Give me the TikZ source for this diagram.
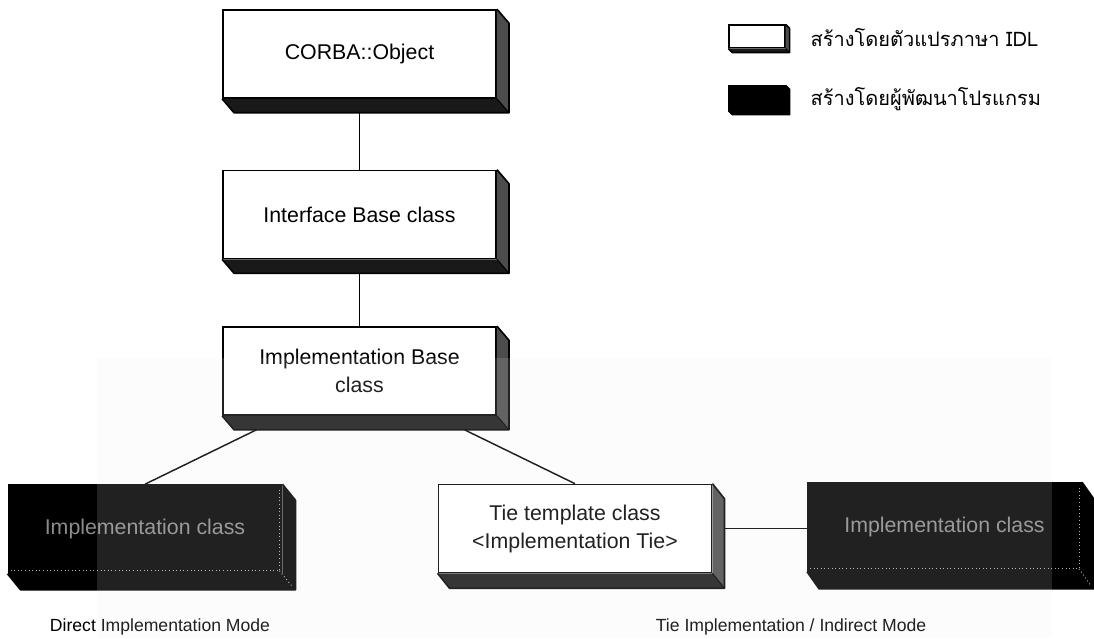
\documentclass[tikz,border=0pt]{standalone}
\usepackage{fontspec}
\setmainfont{Liberation Sans}
\newfontfamily\thaifont[Script=Thai]{Loma}
\usetikzlibrary{calc}

% 3D bevel (right and bottom faces) behind a named box node
\newcommand\classbevel[5]{%
  \fill[#4] (#1.north east) -- ++(#2,#3) -- ([shift={(#2,#3)}]#1.south east) -- (#1.south east) -- cycle;
  \fill[#5] (#1.south west) -- (#1.south east) -- ([shift={(#2,#3)}]#1.south east) -- ([shift={(#2,#3)}]#1.south west) -- cycle;
  \draw[line width=1.2pt, line join=round] (#1.north east) -- ++(#2,#3) -- ([shift={(#2,#3)}]#1.south east) -- ([shift={(#2,#3)}]#1.south west) -- (#1.south west);
  \draw[line width=0.8pt] (#1.south east) -- ++(#2,#3);
}
% faint dotted highlight along the inner edges of a dark box
\newcommand\darkedges[3]{%
  \draw[gray!60, dotted, line width=0.7pt] ([shift={(3,-3)}]#1.south west) -- ([shift={(-3,-3)}]#1.south east) -- ([shift={(-3,3)}]#1.north east);
  \draw[gray!60, dotted, line width=0.7pt] ([shift={(-3,-3)}]#1.south east) -- ++(#2,#3);
}

\tikzset{
  boxbase/.style={rectangle, draw=black, line width=1.2pt, minimum width=205pt,
    minimum height=66pt, inner sep=0pt, align=center,
    font=\fontsize{16}{19}\selectfont},
  idlbox/.style={boxbase, fill=white, text=black},
  userbox/.style={boxbase, fill=black, text=black!45},
  legendbox/.style={rectangle, draw=black, line width=1pt, minimum width=42pt, inner sep=0pt},
  link/.style={line width=1.1pt, draw=black},
  modelabel/.style={font=\fontsize{13.2}{16}\selectfont, anchor=center},
  legendtext/.style={font=\thaifont\fontsize{15}{18}\selectfont, anchor=west},
}

\begin{document}
\begin{tikzpicture}[x=0.75pt, y=-0.75pt]
\useasboundingbox (0,0) rectangle (1094,638);
\fill[white] (0,0) rectangle (1094,638);
\fill[black!1] (97,358) rectangle (1052,638);

% class hierarchy
\node[idlbox] (corba) at (359.5,54) {CORBA::Object};
\classbevel{corba}{12}{14}{black!70}{black!90}

\node[idlbox] (iface) at (359.5,214.5) {Interface Base class};
\classbevel{iface}{12}{14}{black!70}{black!90}

\node[idlbox] (implbase) at (359.5,371) {Implementation Base\\[2pt]class};
\classbevel{implbase}{12}{14}{black!70}{black!90}

\node[userbox] (impldirect) at (145,529) {Implementation class};
\classbevel{impldirect}{13}{16}{black}{black}
\darkedges{impldirect}{13}{16}

\node[idlbox] (tie) at (575,528.5) {Tie template class\\[2pt]<Implementation Tie>};
\classbevel{tie}{12}{15}{black!70}{black!90}

\node[userbox] (impltie) at (944.5,527) {Implementation class};
\classbevel{impltie}{12}{17}{black}{black}
\darkedges{impltie}{12}{17}

% connectors
\draw[link] ([yshift=-14*0.75pt]corba.south) -- (iface.north);
\draw[link] ([yshift=-14*0.75pt]iface.south) -- (implbase.north);
\draw[link] ([shift={(-103,14)}]implbase.south) -- (impldirect.north);
\draw[link] ([shift={(105,14)}]implbase.south) -- (tie.north);
\draw[link] ([xshift=9pt]tie.east) -- (tie.east -| impltie.west);

% mode captions
\node[modelabel] (directlbl) at (160,627) {Direct Implementation Mode};
\node[modelabel] (tielbl) at (791,627) {Tie Implementation / Indirect Mode};

% legend
\node[legendbox, fill=white, minimum height=17pt] (legidl) at (757,36.5) {};
\classbevel{legidl}{4}{4}{black!70}{black!90}
\node[legendtext] (legidltext) at (806,38) {สร้างโดยตัวแปรภาษา IDL};

\node[legendbox, fill=black, minimum height=18pt] (leguser) at (757,98) {};
\classbevel{leguser}{4}{4}{black}{black}
\node[legendtext] (legusertext) at (806,99) {สร้างโดยผู้พัฒนาโปรแกรม};

% light band over the lower part of the sheet
\fill[white, fill opacity=0.13] (97,358) rectangle (1052,638);
\end{tikzpicture}
\end{document}
